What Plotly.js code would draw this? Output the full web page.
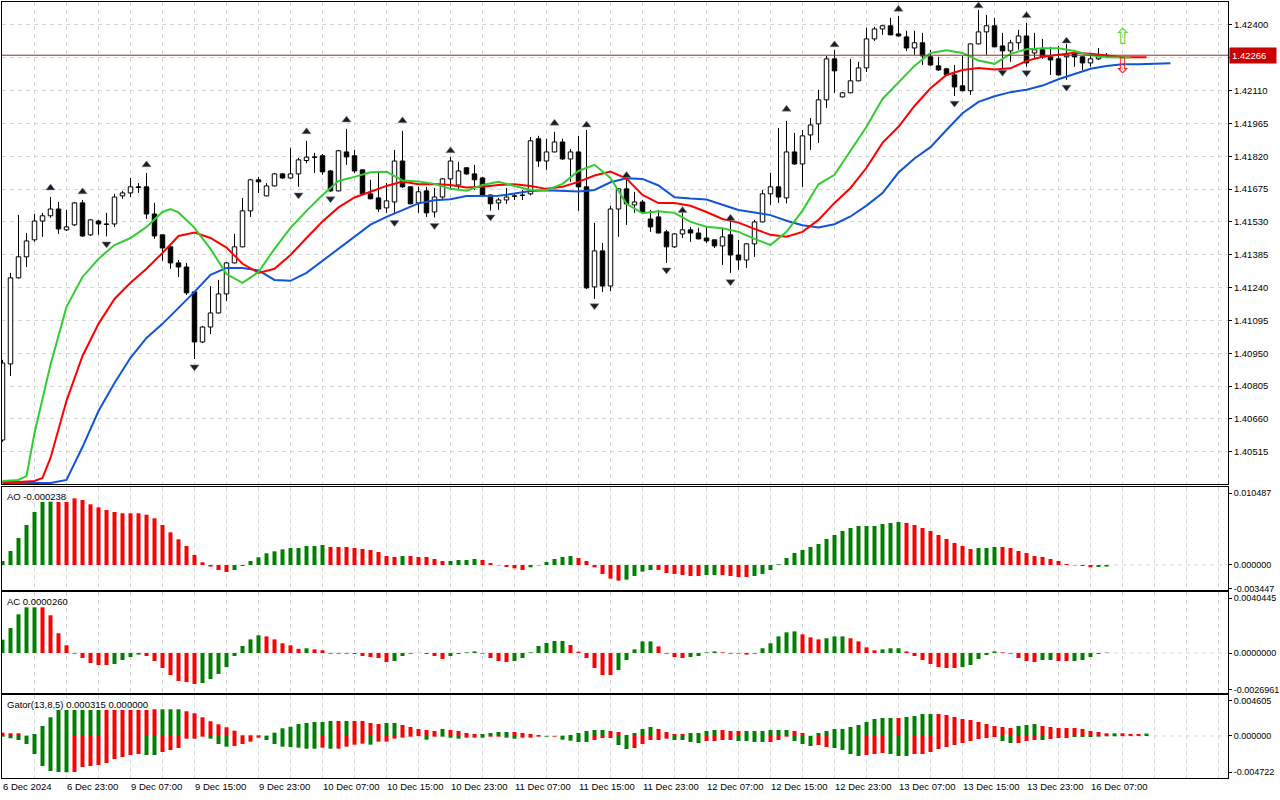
<!DOCTYPE html>
<html>
<head>
<meta charset="utf-8">
<script src="https://cdn.plot.ly/plotly-3.0.1.min.js"></script>
<style>
html,body{margin:0;padding:0;background:#ffffff;}
#chart{width:1280px;height:800px;}
</style>
</head>
<body>
<div id="chart"></div>
<script>
// ---------- DATA (H1 bars, 139 bars) ----------
const timeLabels = ["6 Dec 2024","6 Dec 23:00","9 Dec 07:00","9 Dec 15:00","9 Dec 23:00","10 Dec 07:00","10 Dec 15:00","10 Dec 23:00","11 Dec 07:00","11 Dec 15:00","11 Dec 23:00","12 Dec 07:00","12 Dec 15:00","12 Dec 23:00","13 Dec 07:00","13 Dec 15:00","13 Dec 23:00","16 Dec 07:00"];
const priceTicks = ["1.40515","1.40660","1.40805","1.40950","1.41095","1.41240","1.41385","1.41530","1.41675","1.41820","1.41965","1.42110","1.42255","1.42400"];

const openP = [
1.40567,1.40903,1.41283,1.41376,1.41451,1.41534,1.41557,1.41587,1.41495,1.41517,
1.41614,1.41473,1.41534,1.41521,1.41521,1.41645,1.41658,1.41685,1.41685,1.41565,
1.41473,1.41420,1.41349,1.41331,1.41221,1.41000,1.41066,1.41128,1.41212,1.41349,
1.41420,1.41579,1.41716,1.41645,1.41689,1.41742,1.41724,1.41742,1.41801,1.41817,
1.41822,1.41755,1.41667,1.41839,1.41822,1.41760,1.41654,1.41636,1.41592,1.41618,
1.41799,1.41685,1.41614,1.41667,1.41574,1.41640,1.41720,1.41693,1.41769,1.41742,
1.41724,1.41649,1.41614,1.41627,1.41645,1.41649,1.41654,1.41897,1.41799,1.41839,
1.41883,1.41808,1.41839,1.41685,1.41243,1.41402,1.41247,1.41587,1.41676,1.41605,
1.41618,1.41543,1.41552,1.41486,1.41420,1.41477,1.41495,1.41481,1.41459,1.41451,
1.41424,1.41473,1.41384,1.41362,1.41433,1.41530,1.41654,1.41685,1.41636,1.41839,
1.41786,1.41914,1.41963,1.42069,1.42250,1.42082,1.42100,1.42153,1.42210,1.42338,
1.42382,1.42396,1.42360,1.42347,1.42298,1.42321,1.42259,1.42219,1.42206,1.42179,
1.42131,1.42109,1.42316,1.42369,1.42396,1.42307,1.42285,1.42321,1.42351,1.42276,
1.42290,1.42259,1.42250,1.42259,1.42276,1.42259,1.42232,1.42250,1.42259];
const highP = [
1.40921,1.41305,1.41561,1.41481,1.41565,1.41570,1.41640,1.41618,1.41583,1.41618,
1.41627,1.41543,1.41539,1.41570,1.41654,1.41667,1.41724,1.41702,1.41746,1.41614,
1.41475,1.41422,1.41362,1.41349,1.41223,1.41071,1.41247,1.41274,1.41353,1.41477,
1.41636,1.41720,1.41729,1.41702,1.41746,1.41746,1.41857,1.41813,1.41888,1.41835,
1.41830,1.41760,1.41848,1.41941,1.41848,1.41762,1.41716,1.41746,1.41702,1.41848,
1.41932,1.41687,1.41685,1.41685,1.41680,1.41724,1.41817,1.41795,1.41771,1.41782,
1.41729,1.41651,1.41636,1.41680,1.41658,1.41671,1.41905,1.41910,1.41897,1.41928,
1.41897,1.41852,1.41910,1.41936,1.41526,1.41437,1.41601,1.41680,1.41724,1.41663,
1.41627,1.41583,1.41583,1.41495,1.41481,1.41570,1.41508,1.41504,1.41512,1.41453,
1.41504,1.41539,1.41451,1.41437,1.41539,1.41671,1.41746,1.41945,1.41976,1.41923,
1.41936,1.41989,1.42113,1.42263,1.42290,1.42104,1.42250,1.42237,1.42387,1.42391,
1.42400,1.42431,1.42440,1.42374,1.42374,1.42365,1.42290,1.42259,1.42210,1.42223,
1.42263,1.42318,1.42466,1.42444,1.42431,1.42365,1.42334,1.42378,1.42409,1.42365,
1.42338,1.42303,1.42307,1.42316,1.42290,1.42261,1.42268,1.42298,1.42276];
const lowP = [
1.40559,1.40850,1.41280,1.41331,1.41442,1.41464,1.41548,1.41477,1.41490,1.41512,
1.41464,1.41468,1.41473,1.41466,1.41508,1.41632,1.41640,1.41658,1.41543,1.41455,
1.41358,1.41323,1.41287,1.41208,1.40925,1.40996,1.41035,1.41126,1.41181,1.41347,
1.41418,1.41552,1.41658,1.41643,1.41687,1.41720,1.41720,1.41685,1.41789,1.41746,
1.41738,1.41663,1.41665,1.41782,1.41746,1.41652,1.41630,1.41574,1.41570,1.41565,
1.41680,1.41608,1.41570,1.41552,1.41550,1.41632,1.41676,1.41676,1.41738,1.41671,
1.41647,1.41580,1.41583,1.41610,1.41627,1.41627,1.41647,1.41773,1.41760,1.41837,
1.41804,1.41707,1.41579,1.41234,1.41190,1.41221,1.41225,1.41464,1.41517,1.41570,
1.41568,1.41486,1.41479,1.41349,1.41415,1.41459,1.41442,1.41453,1.41437,1.41415,
1.41340,1.41305,1.41318,1.41327,1.41376,1.41528,1.41605,1.41614,1.41612,1.41782,
1.41685,1.41848,1.41879,1.42033,1.42100,1.42080,1.42098,1.42151,1.42192,1.42329,
1.42356,1.42354,1.42349,1.42285,1.42268,1.42223,1.42219,1.42197,1.42177,1.42086,
1.42107,1.42091,1.42314,1.42268,1.42301,1.42210,1.42237,1.42290,1.42215,1.42254,
1.42250,1.42179,1.42177,1.42157,1.42215,1.42201,1.42215,1.42245,1.42257];
const closeP = [
1.40907,1.41283,1.41376,1.41446,1.41534,1.41557,1.41587,1.41499,1.41508,1.41614,
1.41468,1.41539,1.41521,1.41519,1.41640,1.41658,1.41685,1.41682,1.41565,1.41468,
1.41415,1.41349,1.41331,1.41217,1.41000,1.41066,1.41128,1.41212,1.41349,1.41420,
1.41579,1.41716,1.41707,1.41689,1.41742,1.41724,1.41742,1.41804,1.41816,1.41815,
1.41751,1.41667,1.41844,1.41817,1.41755,1.41654,1.41632,1.41587,1.41623,1.41799,
1.41685,1.41610,1.41663,1.41570,1.41640,1.41720,1.41799,1.41755,1.41742,1.41716,
1.41649,1.41610,1.41627,1.41640,1.41643,1.41647,1.41888,1.41799,1.41839,1.41883,
1.41808,1.41839,1.41685,1.41239,1.41402,1.41247,1.41587,1.41676,1.41610,1.41618,
1.41574,1.41508,1.41481,1.41420,1.41477,1.41495,1.41481,1.41455,1.41446,1.41424,
1.41464,1.41384,1.41362,1.41433,1.41530,1.41654,1.41685,1.41640,1.41839,1.41786,
1.41910,1.41958,1.42069,1.42250,1.42197,1.42100,1.42153,1.42210,1.42338,1.42382,
1.42396,1.42356,1.42351,1.42298,1.42321,1.42263,1.42223,1.42201,1.42179,1.42126,
1.42109,1.42316,1.42369,1.42396,1.42303,1.42285,1.42321,1.42351,1.42232,1.42290,
1.42259,1.42245,1.42179,1.42268,1.42259,1.42232,1.42250,1.42259,1.42266];

// Alligator (jaw blue, teeth red, lips green), bar index + value
const jawX = [0,2,4,6,8,10,12,14,16,18,20,22,24,26,28,30,32,34,36,38,40,42,44,46,48,50,52,54,56,58,60,62,64,66,68,70,72,74,76,78,80,82,84,86,88,90,92,94,96,98,100,102,104,106,108,110,112,114,116,118,120,122,124,126,128,130,132,134,136,138,140,142,144,146];
const jawV = [1.40377,1.40377,1.40377,1.40377,1.40391,1.40536,1.40695,1.40819,1.40930,1.41018,1.41080,1.41150,1.41221,1.41296,1.41327,1.41327,1.41316,1.41274,1.41270,1.41305,1.41358,1.41411,1.41464,1.41518,1.41552,1.41583,1.41612,1.41626,1.41630,1.41644,1.41644,1.41646,1.41655,1.41667,1.41670,1.41668,1.41664,1.41671,1.41705,1.41723,1.41720,1.41691,1.41639,1.41633,1.41629,1.41606,1.41583,1.41572,1.41560,1.41535,1.41515,1.41505,1.41520,1.41554,1.41602,1.41657,1.41748,1.41810,1.41860,1.41936,1.42010,1.42060,1.42085,1.42103,1.42114,1.42132,1.42160,1.42183,1.42206,1.42218,1.42226,1.42226,1.42228,1.42231];
const teethX = [0,2,4,5,6,8,10,12,14,16,18,20,22,24,26,28,30,32,34,36,38,40,42,44,46,48,50,52,54,56,58,60,62,64,66,68,70,72,74,76,78,80,82,84,86,88,90,92,94,96,98,100,102,104,106,108,110,112,114,116,118,120,122,124,126,128,130,132,134,136,138,140,142,143];
const teethV = [1.40382,1.40382,1.40386,1.40400,1.40488,1.40740,1.40938,1.41080,1.41190,1.41261,1.41323,1.41393,1.41468,1.41483,1.41459,1.41417,1.41345,1.41305,1.41323,1.41384,1.41459,1.41532,1.41594,1.41638,1.41663,1.41689,1.41708,1.41696,1.41697,1.41693,1.41682,1.41685,1.41693,1.41696,1.41689,1.41676,1.41685,1.41707,1.41735,1.41752,1.41721,1.41649,1.41613,1.41613,1.41601,1.41574,1.41543,1.41527,1.41499,1.41473,1.41465,1.41486,1.41539,1.41614,1.41680,1.41769,1.41879,1.41950,1.42042,1.42120,1.42179,1.42201,1.42210,1.42203,1.42208,1.42241,1.42259,1.42268,1.42277,1.42273,1.42265,1.42257,1.42257,1.42257];
const lipsX = [0,2,3,4,6,8,10,12,14,16,18,20,21,22,24,26,28,30,32,34,36,38,40,42,44,46,48,50,52,54,56,58,60,62,64,66,68,70,72,74,76,78,80,82,84,86,88,90,92,94,96,98,100,102,104,106,108,110,112,114,116,118,120,122,124,126,128,130,132,134,136,138,140,141];
const lipsV = [1.40386,1.40391,1.40408,1.40598,1.40899,1.41155,1.41287,1.41367,1.41428,1.41459,1.41508,1.41574,1.41587,1.41572,1.41504,1.41411,1.41300,1.41261,1.41309,1.41411,1.41504,1.41579,1.41649,1.41711,1.41729,1.41749,1.41752,1.41713,1.41709,1.41698,1.41676,1.41668,1.41693,1.41707,1.41689,1.41671,1.41670,1.41698,1.41755,1.41782,1.41724,1.41610,1.41568,1.41577,1.41570,1.41530,1.41509,1.41502,1.41486,1.41455,1.41428,1.41486,1.41580,1.41696,1.41738,1.41844,1.41950,1.42073,1.42148,1.42219,1.42276,1.42288,1.42276,1.42243,1.42228,1.42272,1.42292,1.42297,1.42297,1.42285,1.42266,1.42257,1.42256,1.42256];

// Fractals (bar index, arrow price)
const fracUpX = [6,10,18,38,43,50,56,69,73,78,85,91,98,104,112,122,128,133];
const fracUpV = [1.41680,1.41663,1.41782,1.41928,1.41980,1.41977,1.41844,1.41966,1.41958,1.41735,1.41580,1.41546,1.42028,1.42312,1.42469,1.42484,1.42441,1.42329];
const fracDnX = [13,24,37,41,49,54,61,74,83,91,119,125,128,133];
const fracDnV = [1.41433,1.40890,1.41649,1.41632,1.41527,1.41514,1.41552,1.41160,1.41318,1.41266,1.42054,1.42191,1.42189,1.42125];

// Signal arrows on the projected bar
const signalX = [140,140];
const signalV = [1.42338,1.42210];

// Awesome Oscillator (1 = green, 0 = red)
const aoV = [
0.00058,0.00204,0.00393,0.00583,0.00772,0.00918,0.00923,0.00918,0.00918,0.00971,
0.00947,0.00884,0.00840,0.00801,0.00772,0.00753,0.00753,0.00753,0.00733,0.00680,
0.00583,0.00476,0.00374,0.00277,0.00146,0.00039,-0.00024,-0.00073,-0.00102,-0.00073,
-0.00015,0.00058,0.00112,0.00170,0.00199,0.00228,0.00248,0.00248,0.00277,0.00277,
0.00291,0.00262,0.00262,0.00262,0.00248,0.00233,0.00219,0.00189,0.00131,0.00117,
0.00131,0.00131,0.00117,0.00117,0.00087,0.00058,0.00058,0.00073,0.00073,0.00087,
0.00073,0.00029,-0.00005,-0.00029,-0.00049,-0.00073,-0.00034,-0.00005,0.00044,0.00087,
0.00117,0.00131,0.00102,0.00058,-0.00034,-0.00131,-0.00199,-0.00228,-0.00214,-0.00160,
-0.00097,-0.00073,-0.00073,-0.00117,-0.00131,-0.00146,-0.00160,-0.00160,-0.00146,-0.00146,
-0.00146,-0.00160,-0.00175,-0.00175,-0.00160,-0.00131,-0.00073,0.00010,0.00102,0.00175,
0.00219,0.00262,0.00306,0.00379,0.00437,0.00495,0.00539,0.00568,0.00568,0.00568,
0.00597,0.00612,0.00627,0.00612,0.00583,0.00539,0.00495,0.00437,0.00379,0.00321,
0.00277,0.00233,0.00248,0.00248,0.00262,0.00262,0.00248,0.00204,0.00175,0.00131,
0.00117,0.00087,0.00058,0.00015,-0.00005,-0.00015,-0.00034,-0.00029,-0.000238];
const aoUp = [
1,1,1,1,1,1,1,0,0,0, 0,0,0,0,0,0,0,0,0,0, 0,0,0,0,0,0,0,0,0,1, 1,1,1,1,1,1,1,1,1,1,
1,0,0,0,0,0,0,0,0,0, 1,0,0,0,0,0,1,1,1,1, 0,0,0,0,0,0,1,1,1,1, 1,1,0,0,0,0,0,0,1,1,
1,1,0,0,0,0,0,0,1,1, 0,0,0,0,1,1,1,1,1,1, 1,1,1,1,1,1,1,1,1,1, 1,1,1,0,0,0,0,0,0,0,
0,0,1,1,1,0,0,0,0,0, 0,0,0,0,0,0,0,1,1];

// Accelerator Oscillator
const acV = [
0.00099,0.00185,0.00286,0.00338,0.00338,0.00338,0.00279,0.00146,0.00057,-0.00005,
-0.00037,-0.00074,-0.00089,-0.00089,-0.00081,-0.00052,-0.00030,-0.00012,-0.00022,-0.00059,
-0.00111,-0.00163,-0.00207,-0.00215,-0.00229,-0.00222,-0.00192,-0.00155,-0.00104,-0.00022,
0.00052,0.00101,0.00131,0.00123,0.00101,0.00072,0.00057,0.00031,0.00035,0.00027,
0.00020,-0.00005,-0.00005,-0.00005,-0.00007,-0.00022,-0.00030,-0.00037,-0.00067,-0.00059,
-0.00022,-0.00005,0.00001,-0.00007,-0.00022,-0.00044,-0.00022,-0.00007,0.00005,0.00012,
-0.00005,-0.00037,-0.00059,-0.00067,-0.00059,-0.00037,0.00005,0.00052,0.00074,0.00089,
0.00089,0.00059,0.00010,-0.00037,-0.00111,-0.00163,-0.00163,-0.00126,-0.00052,0.00027,
0.00086,0.00086,0.00049,-0.00005,-0.00030,-0.00037,-0.00030,-0.00022,0.00005,0.00012,
0.00005,-0.00005,-0.00005,-0.00012,-0.00005,0.00035,0.00072,0.00123,0.00153,0.00160,
0.00138,0.00116,0.00101,0.00109,0.00123,0.00123,0.00109,0.00086,0.00042,0.00020,
0.00027,0.00035,0.00035,0.00012,-0.00022,-0.00052,-0.00081,-0.00104,-0.00111,-0.00111,
-0.00104,-0.00089,-0.00044,-0.00015,0.00012,0.00005,-0.00005,-0.00037,-0.00059,-0.00067,
-0.00052,-0.00052,-0.00059,-0.00059,-0.00059,-0.00052,-0.00030,-0.00007,0.000026];
const acUp = [
1,1,1,1,1,0,0,0,0,0, 0,0,0,0,1,1,1,1,0,0, 0,0,0,0,0,1,1,1,1,1, 1,1,1,0,0,0,0,0,1,0,
0,0,0,0,0,0,0,0,0,1, 1,1,1,0,0,0,1,1,1,1, 0,0,0,0,1,1,1,1,1,1, 1,0,0,0,0,0,0,1,1,1,
1,1,0,0,0,0,1,1,1,1, 0,0,0,0,1,1,1,1,1,1, 0,0,0,1,1,1,0,0,0,0, 1,1,1,0,0,0,0,0,0,0,
1,1,1,1,1,0,0,0,0,0, 1,1,0,0,1,1,1,1,1];

// Gator Oscillator (13,8,5): upper and lower histograms, 144 values (shifted)
const gatorUpV = [
0.00043,0.00035,0.00035,0.00004,0.00026,0.00130,0.00243,0.00338,0.00338,0.00338,
0.00338,0.00338,0.00338,0.00338,0.00338,0.00338,0.00338,0.00338,0.00338,0.00347,
0.00347,0.00347,0.00347,0.00321,0.00295,0.00243,0.00191,0.00152,0.00113,0.00069,
0.00009,0.00009,0.00009,0.00004,0.00043,0.00100,0.00120,0.00156,0.00169,0.00182,
0.00182,0.00195,0.00195,0.00195,0.00195,0.00195,0.00169,0.00156,0.00169,0.00169,
0.00143,0.00117,0.00091,0.00078,0.00065,0.00091,0.00078,0.00065,0.00039,0.00026,
0.00026,0.00039,0.00052,0.00052,0.00052,0.00039,0.00026,0.00013,0.00002,0.00002,
0.00004,0.00013,0.00039,0.00065,0.00078,0.00078,0.00065,0.00052,0.00013,0.00039,
0.00091,0.00117,0.00091,0.00052,0.00026,0.00026,0.00039,0.00039,0.00065,0.00078,
0.00078,0.00065,0.00065,0.00065,0.00065,0.00065,0.00078,0.00078,0.00078,0.00065,
0.00039,0.00002,0.00039,0.00065,0.00091,0.00091,0.00117,0.00143,0.00182,0.00221,
0.00234,0.00234,0.00234,0.00247,0.00260,0.00286,0.00286,0.00286,0.00273,0.00247,
0.00221,0.00208,0.00182,0.00156,0.00130,0.00117,0.00104,0.00130,0.00143,0.00156,
0.00130,0.00117,0.00104,0.00104,0.00104,0.00091,0.00065,0.00052,0.00035,0.00035,
0.00035,0.00026,0.00026,0.000315];
const gatorUpG = [
0,0,0,1,1,1,1,1,1,1, 1,1,1,0,0,0,0,0,0,0, 1,1,1,0,0,0,0,0,0,0, 0,0,0,1,1,1,1,1,1,1,
1,1,0,1,0,0,0,0,1,1, 0,0,0,0,0,1,0,0,0,0, 1,1,1,1,0,0,0,0,0,0, 1,1,1,1,1,1,0,0,0,1,
1,1,0,0,0,0,1,1,1,1, 0,0,0,1,1,1,1,1,1,0, 0,0,1,1,1,1,1,1,1,1, 1,1,0,1,1,1,1,0,0,0,
0,0,0,0,0,0,0,1,1,1, 0,0,0,0,0,0,0,0,0,1, 0,0,0,1];
const gatorDnV = [
-0.00009,-0.00030,-0.00052,-0.00104,-0.00234,-0.00390,-0.00455,-0.00468,-0.00472,-0.00468,
-0.00403,-0.00390,-0.00377,-0.00351,-0.00299,-0.00273,-0.00247,-0.00234,-0.00247,-0.00247,
-0.00208,-0.00182,-0.00156,-0.00035,-0.00035,-0.00009,-0.00035,-0.00104,-0.00139,-0.00130,
-0.00104,-0.00074,-0.00022,-0.00052,-0.00104,-0.00139,-0.00145,-0.00152,-0.00165,-0.00165,
-0.00152,-0.00165,-0.00165,-0.00139,-0.00113,-0.00100,-0.00113,-0.00074,-0.00074,-0.00035,
-0.00022,-0.00009,-0.00002,-0.00048,-0.00009,-0.00009,-0.00022,-0.00035,-0.00022,-0.00022,
-0.00022,-0.00009,-0.00009,-0.00022,-0.00035,-0.00022,-0.00022,-0.00009,-0.00009,-0.00009,
-0.00048,-0.00061,-0.00078,-0.00078,-0.00052,-0.00026,-0.00026,-0.00117,-0.00169,-0.00156,
-0.00104,-0.00052,-0.00052,-0.00035,-0.00052,-0.00052,-0.00078,-0.00091,-0.00065,-0.00065,
-0.00052,-0.00052,-0.00065,-0.00065,-0.00078,-0.00078,-0.00078,-0.00052,-0.00009,-0.00065,
-0.00104,-0.00130,-0.00117,-0.00143,-0.00156,-0.00182,-0.00234,-0.00260,-0.00247,-0.00234,
-0.00221,-0.00234,-0.00260,-0.00260,-0.00234,-0.00234,-0.00208,-0.00169,-0.00143,-0.00117,
-0.00091,-0.00065,-0.00039,-0.00026,-0.00013,-0.00065,-0.00091,-0.00091,-0.00065,-0.00052,
-0.00052,-0.00039,-0.00026,-0.00026,-0.00013,-0.00013,-0.00013,-0.00009,-0.00004,-0.00004,
-0.00002,-0.00001,0,0];
const gatorDnG = [
1,1,1,1,1,1,1,1,1,0, 0,0,0,0,0,0,0,0,1,1, 0,0,0,0,0,0,1,1,1,0, 0,0,0,1,1,1,1,1,1,1,
0,1,0,0,0,0,1,0,0,0, 0,0,0,1,0,1,1,1,0,0, 1,0,0,1,1,0,0,0,1,0, 1,1,1,1,0,0,0,1,1,0,
0,0,0,0,1,1,1,1,0,0, 0,0,1,1,1,1,0,0,0,1, 1,1,0,0,1,1,1,1,0,0, 0,1,1,1,0,0,0,0,0,0,
0,0,0,0,0,1,1,0,0,0, 1,0,0,0,1,1,1,1,1,1, 0,0,0,0];

// Axis scale labels of the sub-windows
const aoScale = [0.010487, 0, -0.003447];
const acScale = [0.0040445, 0, -0.0026961];
const gatorScale = [0.004605, 0, -0.004722];

// ---------- BUILD ----------
const GREEN = '#008000', RED = '#ff0000';
const GRID = '#d6d6d6';
const FONT = 'Liberation Sans, Arial, sans-serif';

const N = openP.length;
const idx = openP.map((_, i) => i);
const bodyBase = idx.map(i => Math.min(openP[i], closeP[i]));
const bodyH = idx.map(i => Math.max(Math.abs(closeP[i] - openP[i]), 0.000012));
const bodyFill = idx.map(i => closeP[i] >= openP[i] ? '#ffffff' : '#000000');
const wx = [], wy = [];
idx.forEach(i => {
  const top = Math.max(openP[i], closeP[i]), bot = Math.min(openP[i], closeP[i]);
  if (highP[i] > top) { wx.push(i, i, null); wy.push(top, highP[i], null); }
  if (lowP[i] < bot) { wx.push(i, i, null); wy.push(lowP[i], bot, null); }
});
const col = arr => arr.map(v => v ? GREEN : RED);
const seq = (n) => Array.from({length: n}, (_, i) => i);

const traces = [
  {type:'scatter', mode:'lines', x:wx, y:wy, xaxis:'x', yaxis:'y', line:{color:'#000', width:1}, hoverinfo:'skip'},
  {type:'bar', x:idx, y:bodyH, base:bodyBase, width:0.56, xaxis:'x', yaxis:'y',
   marker:{color:bodyFill, line:{color:'#000', width:1}}, hoverinfo:'skip'},
  {type:'scatter', mode:'lines', x:jawX, y:jawV, xaxis:'x', yaxis:'y', line:{color:'#1054d8', width:2}, hoverinfo:'skip'},
  {type:'scatter', mode:'lines', x:teethX, y:teethV, xaxis:'x', yaxis:'y', line:{color:'#ff0000', width:2}, hoverinfo:'skip'},
  {type:'scatter', mode:'lines', x:lipsX, y:lipsV, xaxis:'x', yaxis:'y', line:{color:'#32cd32', width:2}, hoverinfo:'skip'},
  {type:'scatter', mode:'markers', x:fracUpX, y:fracUpV, xaxis:'x', yaxis:'y',
   marker:{symbol:'triangle-up', size:8, color:'#1e1e1e', line:{color:'#7a8cb0', width:0.5}}, hoverinfo:'skip'},
  {type:'scatter', mode:'markers', x:fracDnX, y:fracDnV, xaxis:'x', yaxis:'y',
   marker:{symbol:'triangle-down', size:8, color:'#1e1e1e', line:{color:'#7a8cb0', width:0.5}}, hoverinfo:'skip'},
  {type:'scatter', mode:'text', x:signalX, y:signalV, text:['\u21E7','\u21E9'], xaxis:'x', yaxis:'y',
   textposition:'middle center', textfont:{family:'DejaVu Sans', size:22, color:['#55d640','#ff2020']}, hoverinfo:'skip'},
  {type:'bar', x:seq(aoV.length), y:aoV, width:0.5, xaxis:'x2', yaxis:'y2', marker:{color:col(aoUp), line:{width:0}}, hoverinfo:'skip'},
  {type:'bar', x:seq(acV.length), y:acV, width:0.5, xaxis:'x3', yaxis:'y3', marker:{color:col(acUp), line:{width:0}}, hoverinfo:'skip'},
  {type:'bar', x:seq(gatorUpV.length), y:gatorUpV, width:0.5, xaxis:'x4', yaxis:'y4', marker:{color:col(gatorUpG), line:{width:0}}, hoverinfo:'skip'},
  {type:'bar', x:seq(gatorDnV.length), y:gatorDnV, width:0.5, xaxis:'x4', yaxis:'y4', marker:{color:col(gatorDnG), line:{width:0}}, hoverinfo:'skip'}
];

const xTickVals = [], xTickText = [];
for (let k = 0; k <= 152; k += 4) {
  xTickVals.push(k);
  xTickText.push(k % 8 === 0 && timeLabels[k / 8] ? timeLabels[k / 8] : '');
}
const XR = [-0.0625, 153.1875];
const frame = {showline:true, mirror:true, linecolor:'#000', linewidth:1, zeroline:false, fixedrange:true};
const xBase = Object.assign({}, frame, {range:XR, tickvals:xTickVals, ticktext:xTickText, showgrid:true,
  gridcolor:GRID, gridwidth:1, griddash:'4px,4px', ticks:'', showticklabels:false, tickangle:0});
const yBase = Object.assign({}, frame, {side:'right', ticks:'outside', ticklen:3, tickcolor:'#000', showgrid:false,
  ticklabeloverflow:'allow', tickfont:{family:FONT, size:9, color:'#000'}});

const fmtScale = (arr, d) => arr.map(v => v.toFixed(d));
const last = closeP[N - 1];

const layout = {
  width:1280, height:800,
  margin:{l:2, r:52, t:2, b:22, pad:0},
  paper_bgcolor:'#ffffff', plot_bgcolor:'#ffffff',
  showlegend:false, barmode:'overlay', hovermode:false,
  font:{family:FONT, size:9.5, color:'#000'},
  xaxis: Object.assign({}, xBase, {anchor:'y'}),
  xaxis2: Object.assign({}, xBase, {anchor:'y2', matches:'x'}),
  xaxis3: Object.assign({}, xBase, {anchor:'y3', matches:'x'}),
  xaxis4: Object.assign({}, xBase, {anchor:'y4', matches:'x', showticklabels:true, tickangle:0,
     ticklabelposition:'outside right', ticklabeloverflow:'allow', tickfont:{family:FONT, size:9.5, color:'#000'}}),
  yaxis: Object.assign({}, yBase, {domain:[0.3789, 1], range:[1.40373, 1.42501],
     tickvals:priceTicks.map(Number), ticktext:priceTicks, showgrid:true, gridcolor:GRID, griddash:'4px,4px',
     tickfont:{family:FONT, size:9.5, color:'#000'}}),
  yaxis2: Object.assign({}, yBase, {domain:[0.2423, 0.375], range:[-0.003643, 0.011365],
     tickvals:aoScale, ticktext:fmtScale(aoScale, 6)}),
  yaxis3: Object.assign({}, yBase, {domain:[0.1095, 0.2397], range:[-0.00296, 0.004514],
     tickvals:acScale, ticktext:fmtScale(acScale, 7)}),
  yaxis4: Object.assign({}, yBase, {domain:[0, 0.107], range:[-0.00546, 0.00533],
     tickvals:gatorScale, ticktext:fmtScale(gatorScale, 6)}),
  shapes: [
    {type:'line', xref:'x domain', x0:0, x1:1, yref:'y', y0:last, y1:last, line:{color:'#a02828', width:1}, layer:'above'},
    {type:'line', xref:'x2 domain', x0:0, x1:1, yref:'y2', y0:0, y1:0, line:{color:GRID, width:1, dash:'4px,4px'}, layer:'below'},
    {type:'line', xref:'x3 domain', x0:0, x1:1, yref:'y3', y0:0, y1:0, line:{color:GRID, width:1, dash:'4px,4px'}, layer:'below'},
    {type:'line', xref:'x4 domain', x0:0, x1:1, yref:'y4', y0:0, y1:0, line:{color:GRID, width:1, dash:'4px,4px'}, layer:'below'}
  ],
  annotations: [
    {xref:'paper', x:0, xanchor:'left', xshift:3, yref:'y2 domain', y:1, yanchor:'top', yshift:-2, showarrow:false,
     text:'AO ' + aoV[aoV.length - 1].toFixed(6), font:{family:FONT, size:9.5, color:'#000'}},
    {xref:'paper', x:0, xanchor:'left', xshift:3, yref:'y3 domain', y:1, yanchor:'top', yshift:-2, showarrow:false,
     text:'AC ' + acV[acV.length - 1].toFixed(7), font:{family:FONT, size:9.5, color:'#000'}},
    {xref:'paper', x:0, xanchor:'left', xshift:3, yref:'y4 domain', y:1, yanchor:'top', yshift:-2, showarrow:false,
     text:'Gator(13,8,5) ' + gatorUpV[gatorUpV.length - 1].toFixed(6) + ' ' + Math.abs(gatorDnV[gatorDnV.length - 1]).toFixed(6),
     font:{family:FONT, size:9.5, color:'#000'}},
    {xref:'paper', x:1, xanchor:'left', xshift:1, yref:'y', y:last, yanchor:'middle', showarrow:false,
     text:last.toFixed(5), width:42, align:'left', bgcolor:'#c80000', borderpad:2,
     font:{family:FONT, size:9.5, color:'#ffffff'}}
  ]
};

Plotly.newPlot('chart', traces, layout, {staticPlot:true, displayModeBar:false});
</script>
</body>
</html>
